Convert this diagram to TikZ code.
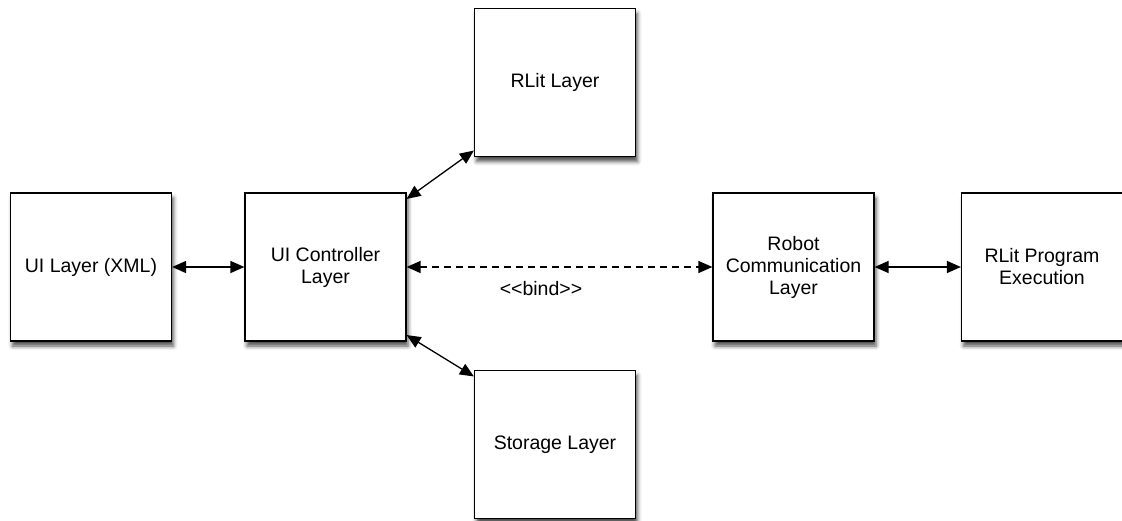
\documentclass[tikz,border=0pt]{standalone}
\usepackage{fontspec}
\setmainfont{Liberation Sans}
\usetikzlibrary{arrows.meta,shadows.blur}

\begin{document}
\begin{tikzpicture}[x=1pt,y=-1pt,
	layer/.style={draw, fill=white, line width=1.2pt, minimum width=161pt, minimum height=148pt,
		align=center, font=\fontsize{19.5}{22}\selectfont,
		blur shadow={shadow xshift=2pt, shadow yshift=-5pt, shadow blur radius=4pt, shadow opacity=70}},
	link/.style={line width=1.3pt, {Triangle[length=14pt,width=12pt]}-{Triangle[length=14pt,width=12pt]}}]
	\useasboundingbox (0, 0) rectangle (1122, 520);
	\node[layer] (ui) at (91, 267) {UI Layer (XML)};
	\node[layer] (ctrl) at (325.5, 267) {UI Controller\\Layer};
	\node[layer] (rlit) at (555, 82.5) {RLit Layer};
	\node[layer] (store) at (555, 444.5) {Storage Layer};
	\node[layer] (robot) at (793.5, 267) {Robot\\Communication\\Layer};
	\node[layer] (exec) at (1042, 267) {RLit Program\\Execution};
	\draw[link] (ui) -- (ctrl);
	\draw[link] (ctrl.40) -- (rlit.220);
	\draw[link] (ctrl.-40) -- (store.140);
	\draw[link] (robot) -- (exec);
	% binding between controller and robot side
	\draw[link, dash pattern=on 7pt off 5pt] (ctrl) -- (robot);
	\node[font=\fontsize{19.5}{22}\selectfont] (bind) at (541, 289) {<{}<bind>{}>};
\end{tikzpicture}
\end{document}
